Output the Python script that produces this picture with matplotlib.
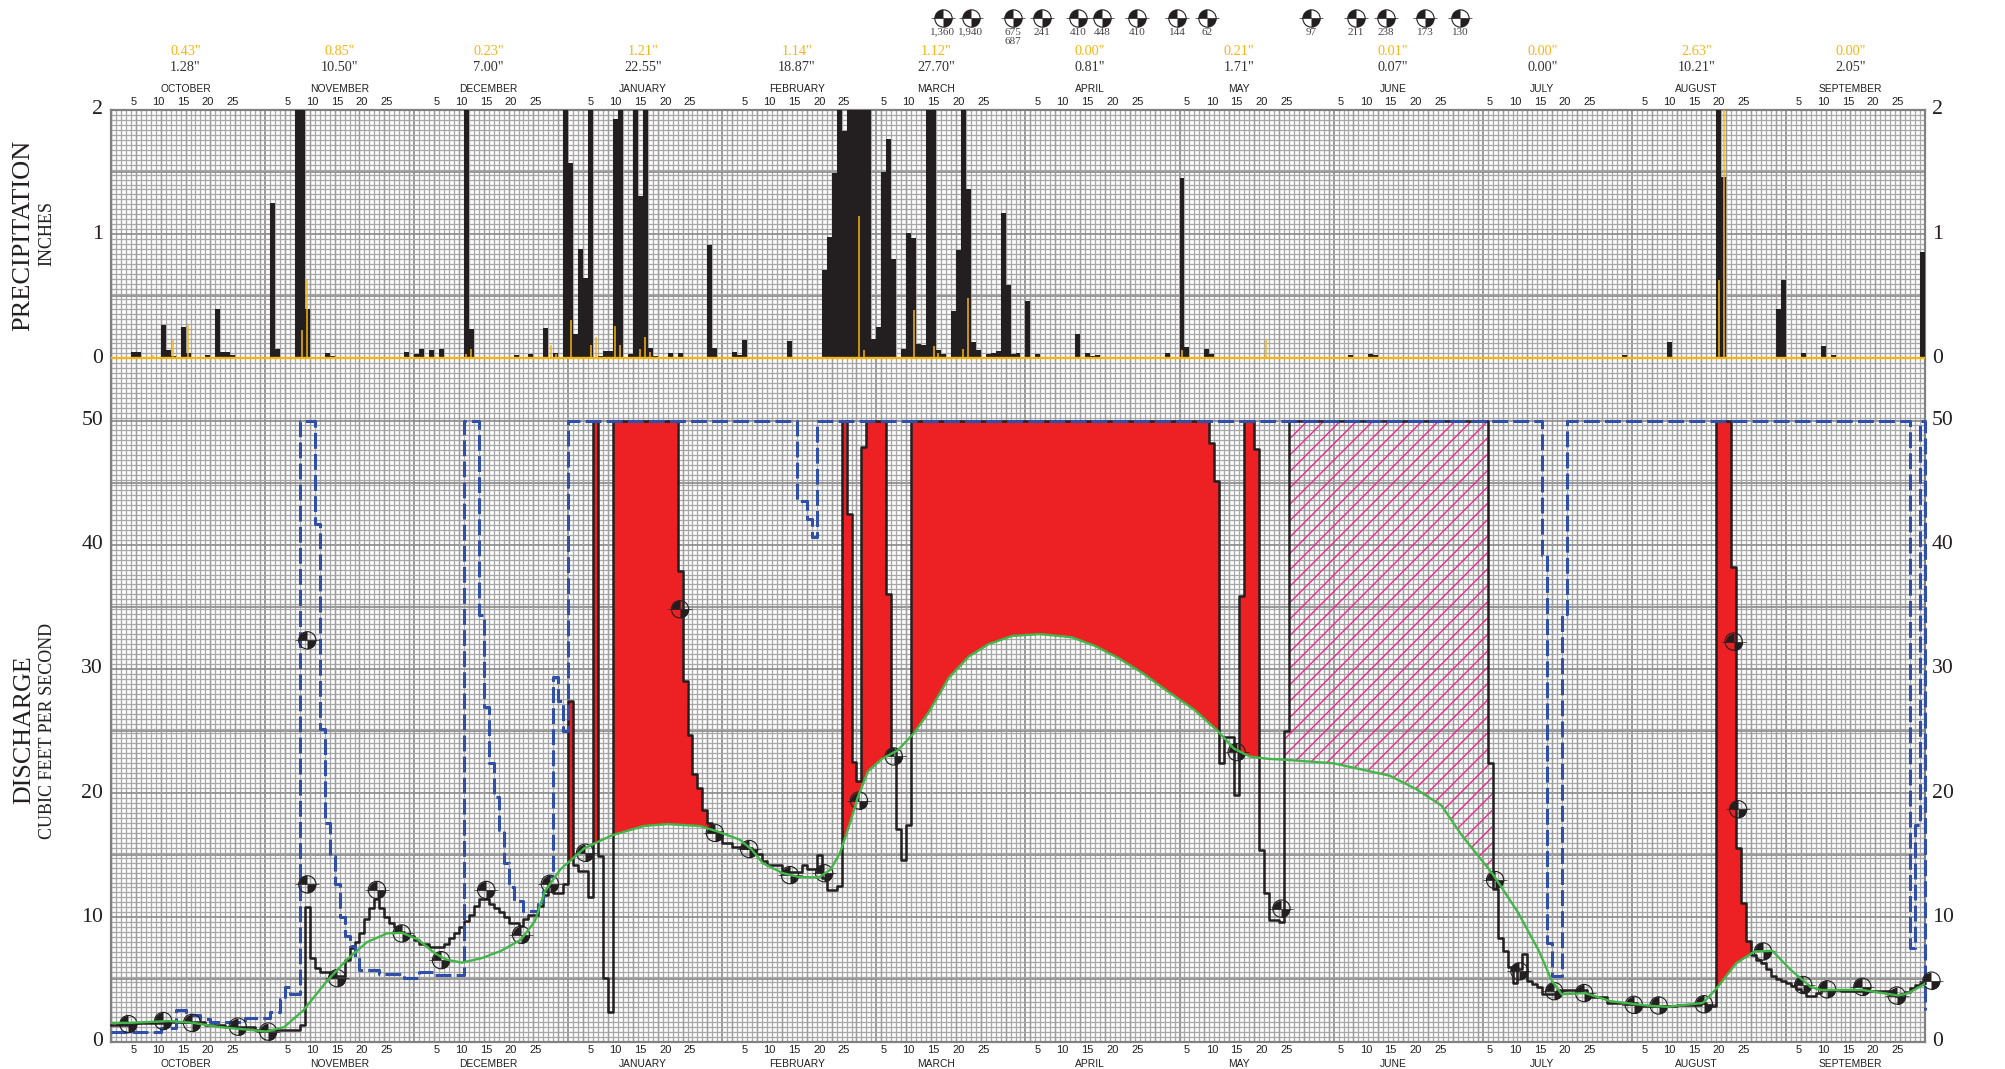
import numpy as np
import matplotlib
matplotlib.use('Agg')
import matplotlib.pyplot as plt
from matplotlib.collections import LineCollection
from matplotlib.path import Path
from matplotlib.ticker import NullFormatter

# values, x is day of the water year (Oct 1 = 0)

months = ['OCTOBER', 'NOVEMBER', 'DECEMBER', 'JANUARY', 'FEBRUARY', 'MARCH',
          'APRIL', 'MAY', 'JUNE', 'JULY', 'AUGUST', 'SEPTEMBER']
month_starts = [0, 31, 61, 92, 123, 151, 182, 212, 243, 273, 304, 335]
heavy_lines = [31, 61, 92, 123, 154, 184, 215, 246, 276, 306, 337]
day_labels = [5, 10, 15, 20, 25]

gold_totals = ['0.43"', '0.85"', '0.23"', '1.21"', '1.14"', '1.12"',
               '0.00"', '0.21"', '0.01"', '0.00"', '2.63"', '0.00"']
black_totals = ['1.28"', '10.50"', '7.00"', '22.55"', '18.87"', '27.70"',
                '0.81"', '1.71"', '0.07"', '0.00"', '10.21"', '2.05"']

# black precipitation bars, 2.5 means cut off by the top of the chart
rain_days = [0, 4, 5, 10, 11, 12, 14, 15, 19, 21, 22, 23, 24, 32, 33, 35, 37, 38, 39,
             42, 43, 44, 47, 50, 54, 59, 61, 62, 64, 66, 68, 71, 72, 73, 74, 79, 81, 82, 84, 87, 89,
             91, 92, 93, 94, 95, 96, 98, 99, 100, 101, 102, 104, 105, 106, 107, 108, 109, 110,
             112, 114, 117, 120, 121, 125, 126, 127, 129, 130, 133, 134, 136, 137, 142,
             143, 144, 145, 146, 147, 148, 149, 150, 151, 152, 153, 154, 155, 156, 157,
             159, 160, 161, 162, 163, 164, 165, 166, 167, 169, 170, 171, 172, 173, 174,
             176, 177, 178, 179, 180, 181, 182, 184, 186, 188, 190, 193, 194, 196, 197, 198,
             212, 213, 215, 216, 220, 221, 224, 225, 226, 249, 253, 254, 304, 312, 313, 318,
             323, 324, 325, 326, 329, 335, 336, 338, 339, 340, 343, 344, 345, 346, 364]
rain_vals = [.01, .05, .055, .27, .07, .02, .255, .045, .025, .40, .055, .055, .025, 1.25, .075, .01, 2.5, 2.5, .40,
             .01, .045, .02, .01, .01, .01, .055, .035, .075, .065, .075, .01, 2.5, .235, .01, .01, .01, .025, .015, .035, .245, .04,
             2.5, 1.57, .2, .88, .65, 2.5, .02, .06, .06, 1.93, 2.5, .035, 2.5, 1.31, 2.5, .08, .02, .015,
             .045, .045, .015, .91, .08, .055, .025, .145, .01, .01, .01, .01, .14, .015, .01,
             .71, .98, 1.49, 2.5, 1.83, 2.5, 2.5, 2.5, 2.5, 2.5, .155, .255, 1.5, 1.77, .8,
             .075, 1.01, .97, .115, .105, 2.5, 2.5, .065, .035, .38, .87, 2.5, 1.36, .135, .065,
             .035, .045, .06, 1.17, .59, .035, .04, .46, .035, .01, .012, .01, .2, .045, .02, .025,
             .045, .01, 1.45, .095, .075, .035, .012, .012, .012, .025, .035, .025, .025, .01, .13, .01,
             2.5, 1.46, .012, .012, .012, .4, .63, .012, .012, .045, .012, .1, .012, .025, .855]

# thin gold precipitation lines
gold_days = [8.5, 12.4, 15.5, 38.5, 39.5, 41.5, 71.5, 72.5, 88.5, 89.5, 92.5, 96.5, 97.5,
             101.5, 102.5, 106.5, 107.5, 108.5, 150.5, 151.5, 161.5, 165.5, 166.5, 171.5,
             172.5, 215.5, 232.5, 323.5, 324.5]
gold_vals = [.025, .15, .27, .23, .63, .015, .035, .075, .105, .035, .31, .105, .175,
             .26, .105, .075, .175, .055, 1.15, .065, .39, .1, .045, .075,
             .49, .065, .155, .63, 2.5]

# black stepped discharge, one value per day
black_flow = ([1.3]*4 + [1.45]*7 + [1.55]*8 + [1.35]*4 + [1.15]*6 + [0.95]*9 + [1.3]
              + [10.8, 6.7, 5.9, 5.6, 5.6, 5.25, 5.25, 5.25, 6.55, 7.5, 8, 8.75, 9.9, 10.75, 11.5,
                 10.75, 10, 9.55, 9.2, 8.85, 8.5, 8.5, 8.2, 7.85, 7.85, 7.6, 7.6, 7.6, 7.85, 8.3,
                 8.7, 9.2, 9.7, 10.2, 10.9, 11.5, 11.5, 11.1, 10.75, 10.4, 10, 9.55, 9.55, 9.3, 9.9,
                 10.2, 10.2, 10.9, 11.8, 12.5, 11.95, 11.95, 12.7, 27.4, 14.2, 13.75, 13.75, 11.6,
                 50, 14.9, 5.1, 2.35]
              + [50]*13
              + [37.9, 29, 24.65, 21.55, 20.4, 18.65, 17.6, 16.9, 16.9, 16, 16, 15.7, 15.7, 15.55,
                 15.55, 15.1, 15.1, 14.5, 14.2, 14.2, 14.2, 13.65, 13.65, 13.65, 13.65, 14.2, 13.85,
                 13.85, 15, 13.15, 12.2, 12.2, 12.55, 50, 42.5, 22.5, 21, 47.9, 50, 50, 50, 50, 36,
                 23.45, 17.1, 14.6, 17.4]
              + [50]*60
              + [48.2, 45.1, 22.4, 24.5, 24.5, 19.85, 35.9, 50, 50, 47.7, 15.45, 11.95, 9.8, 9.8,
                 9.65, 25]
              + [50]*40
              + [22.4, 12.3, 8.35, 7.3, 6, 4.75, 5.8, 7.05, 4.85, 4.65, 4.4, 3.8, 3.8, 3.8]
              + [4.15]*6 + [3.8] + [3.55]*3 + [3.1]*6 + [2.85]*8 + [2.9]*5 + [3.1, 2.85, 2.85]
              + [50, 50, 50, 38.2, 15.55, 11.15, 8.1, 7, 6.6, 6.3, 5.8, 5.25, 5, 4.85, 4.75, 4.5,
                 4.2, 4, 3.7, 3.7, 3.9, 4.15, 4.15, 4.15, 4.15]
              + [4.05]*11 + [3.7, 3.8, 4, 4.3, 4.55, 4.7, 4.7])

# blue dashed stepped line, last value is the drop at the right edge
blue_flow = ([0.8]*10 + [1.1]*3 + [2.5]*2 + [2.15]*3 + [1.8]*2 + [1.55]*7 + [1.9]*5 + [2.35]*2
             + [3.4, 4.4, 3.8, 3.8, 50, 50, 50, 41.65, 25.2, 17.6, 14.9, 12.65, 10, 8.5, 7.65, 6.8]
             + [5.75]*4 + [5.4]*5 + [5.1]*3 + [5.6]*3 + [5.35]*6 + [50]*3
             + [34.3, 26.9, 22.4, 19.7, 17, 14.35, 12.45, 11.35, 11.35, 10.5, 10.5, 10.5, 11.1,
                12.1, 13.3, 29.35, 27.4, 25]
             + [50]*46 + [43.5, 43.5, 42.1, 40.6] + [50]*146
             + [39.15, 7.95, 5.3, 5.3, 34.45] + [50]*69 + [7.55, 17.45, 50, 2.5])

# green curve
green_days = [0, 3.7, 11.7, 16.5, 22, 27.6, 31.2, 34.8, 38.7, 43.5, 47.5, 51.5, 55.5, 58.6, 61.8,
              65, 67.4, 70.6, 74.5, 78.5, 82.5, 85.3, 87.3, 90.4, 95.2, 100.8, 107.2, 111.9, 118.5,
              122.5, 126.5, 128.8, 131.2, 135.2, 138.4, 142.4, 144.8, 146.7, 148.7, 150.3, 152.3,
              155.1, 158.3, 161.5, 164.6, 168.6, 172.6, 176.6, 181.3, 186.9, 193.3, 198, 202.8,
              207.6, 212.4, 218, 222.7, 225.9, 229.1, 233, 235.6, 246, 257.3, 262.5, 267.7, 271.8,
              278, 283.1, 287.3, 289.9, 291.9, 296.6, 301.7, 308.9, 313.1, 320.3, 322.9, 327,
              330.7, 334.3, 337.9, 342, 344.1, 352.4, 359.6, 361.7, 365]
green_vals = [1.5, 1.5, 1.65, 1.5, 1.15, .95, .8, 1.15, 2.5, 4.9, 6.6, 8, 8.7, 8.75, 8.2,
              7.15, 6.6, 6.35, 6.7, 7.3, 8.2, 9.7, 12.1, 13.85, 15.55, 16.6, 17.35, 17.5, 17.35,
              16.85, 16.25, 15.5, 14.35, 13.55, 13.25, 13.2, 13.85, 15.2, 17.6, 19.7, 21.75,
              22.75, 23.45, 24.8, 26.55, 29.3, 31, 32, 32.65, 32.8, 32.55, 31.85, 30.85,
              29.65, 28.25, 26.7, 25, 23.6, 22.95, 22.75, 22.7, 22.4, 21.4, 20.35, 19, 16.6,
              13.5, 10.4, 7.3, 4.9, 3.8, 3.9, 3.25, 2.9, 2.8, 3.1, 4.2, 6.3,
              7.25, 7.3, 5.8, 4.4, 4.15, 4.15, 3.7, 3.9, 4.65]

# day ranges that get the red fill and the hatch
red_ranges = [(92, 93), (97, 98), (101, 121), (147, 151), (151, 157), (161, 223), (227, 232), (323, 331)]
hatch_range = (236, 279)

# sample points on the discharge chart
sample_days = [3.5, 10.5, 16.3, 25.5, 31.6, 39.5, 39.5, 45.5, 53.5, 58.5, 66.4, 75.5, 82.5, 88.3,
               95.4, 114.5, 121.5, 128.4, 136.6, 143.5, 150.5, 157.5, 226.5, 235.5, 278.5, 283.4,
               290.4, 296.4, 306.4, 311.4, 320.5, 326.5, 327.4, 332.4, 340.5, 345.3, 352.4, 359.3,
               366.3]
sample_vals = [1.4, 1.65, 1.5, 1.2, .8, 32.3, 12.65, 5.1, 12.2, 8.7, 6.55, 12.2, 8.6, 12.7,
               15.2, 34.8, 16.8, 15.5, 13.4, 13.55, 19.4, 22.95, 23.3, 10.7, 13, 5.65,
               4.05, 3.9, 2.95, 2.9, 3, 32.2, 18.7, 7.25, 4.55, 4.2, 4.4, 3.7,
               4.9]

# symbols above the chart
top_days = [167.4, 173, 181.5, 187.3, 194.6, 199.4, 206.4, 214.5, 220.5, 241.4, 250.5, 256.5, 264.4, 271.4]
top_labels = ['1,360', '1,940', '675', '241', '410', '448', '410', '144', '62', '97', '211', '238', '173', '130']

BLACK = '#231f20'
GOLD = '#f7b512'
SERIF = 'Liberation Serif'
SANS = 'Liberation Sans'

W, H = 2005, 1069
LEFT, RIGHT = 111, 1925
fig = plt.figure(figsize=(W / 100, H / 100), dpi=100)
ax_p = fig.add_axes([LEFT / W, 1 - 420.5 / H, (RIGHT - LEFT) / W, 310.5 / H])
ax_q = fig.add_axes([LEFT / W, 1 - 1041.5 / H, (RIGHT - LEFT) / W, 621 / H])
ax_p.set_xlim(0, 365)
ax_q.set_xlim(0, 365)
ax_p.set_ylim(-0.5, 2)
ax_q.set_ylim(0, 50)


def graph_paper(ax, fine, major, top):
    low = ax.get_ylim()[0]
    ax.set_axisbelow(True)
    ax.set_xticks(heavy_lines)
    ax.set_xticks(np.arange(0, 366), minor=True)
    ax.set_yticks(np.arange(top, low - 1e-9, -major))
    ax.set_yticks(np.arange(top, low - 1e-9, -fine), minor=True)
    ax.tick_params(which='both', length=0, labelleft=False, labelbottom=False)
    ax.xaxis.set_major_formatter(NullFormatter())
    ax.grid(which='minor', color='#a8a8a8', lw=0.95)
    ax.grid(which='major', color='#8c8c8c', lw=1.25)
    ax.vlines(np.arange(0, 366, 5), low, top, color='#9c9c9c', lw=0.95, zorder=0.6)
    for s in ax.spines.values():
        s.set_color('#808080')
        s.set_linewidth(1.6)


graph_paper(ax_p, 0.04, 0.5, 2)
graph_paper(ax_q, 0.4, 5, 50)
ax_p.spines['bottom'].set_visible(False)
ax_q.spines['top'].set_visible(False)
ax_q.set_zorder(2)
ax_q.patch.set_alpha(0)

# precipitation
ax_p.bar(np.array(rain_days) + 0.5, rain_vals, width=1.0, color=BLACK, zorder=3)
ax_p.vlines(gold_days, 0, gold_vals, color=GOLD, lw=1.1, zorder=4)
ax_p.plot([0, 365], [0, 0], color=GOLD, lw=1.7, zorder=5)

# discharge fills
black_arr = np.array(black_flow)
xs = np.arange(0, 365, 0.1)
top_line = black_arr[xs.astype(int)]
green_line = np.interp(xs, green_days, green_vals)
for a, b in red_ranges:
    m = (xs >= a) & (xs <= b)
    ax_q.fill_between(xs[m], green_line[m], top_line[m], where=top_line[m] > green_line[m],
                      color='#ed2024', lw=0, zorder=2)

# hatch as diagonal lines clipped to the area between the two curves
a, b = hatch_range
m = (xs >= a) & (xs <= b)
area = ax_q.fill_between(xs[m], green_line[m], top_line[m], where=top_line[m] > green_line[m],
                         facecolor='none', lw=0, zorder=2)
rise = 4.97 / 12.42  # cfs per day for a 45 degree line on screen
starts = np.arange(a - 130, b + 1, 3.3)
segs = [[(s, 0), (s + 50 / rise, 50)] for s in starts]
hatch = LineCollection(segs, colors='#ec2a8c', linewidths=1.0, zorder=2.1)
ax_q.add_collection(hatch)
hatch.set_clip_path(area.get_paths()[0], ax_q.transData)

days = np.arange(366)
ax_q.plot(days, black_flow[:366], drawstyle='steps-post', color=BLACK, lw=1.8, zorder=3, clip_on=False)
ax_q.plot(days, blue_flow, drawstyle='steps-post', color='#2f4fa8', lw=2.2, zorder=4,
          dashes=(5.2, 1.7), clip_on=False)
ax_q.plot(green_days, green_vals, color='#43b649', lw=1.7, zorder=6)


def symbols(ax, x, y, face, size=155):
    # open disc with two black quarters and a small tail
    ax.scatter(x, y, s=size, facecolor=face, edgecolor=BLACK, lw=0.8, zorder=5, clip_on=False)
    ax.scatter(x, y, s=size, marker=Path.wedge(90, 180), color=BLACK, lw=0, zorder=5.1, clip_on=False)
    ax.scatter(x, y, s=size, marker=Path.wedge(270, 360), color=BLACK, lw=0, zorder=5.1, clip_on=False)
    ax.scatter(x, y, s=size * 1.8, marker='_', color=BLACK, lw=0.5, zorder=5.1, clip_on=False)


symbols(ax_q, sample_days, sample_vals, 'none')
symbols(ax_p, top_days, [2.74] * len(top_days), 'white')
for d, t in zip(top_days, top_labels):
    ax_p.text(d, 2.628, t, family=SERIF, fontsize=8, color='#444444', ha='center', va='center')
ax_p.text(top_days[2], 2.555, '687', family=SERIF, fontsize=8, color='#444444', ha='center', va='center')

# month and day labels, top and bottom
for i, start in enumerate(month_starts):
    ax_p.text(start + 15, 2.475, gold_totals[i], family=SERIF, fontsize=10.3, color=GOLD, ha='center', va='center')
    ax_p.text(start + 15, 2.34, black_totals[i], family=SERIF, fontsize=10.3, color='#333333', ha='center', va='center')
    ax_p.text(start + 15, 2.17, months[i], family=SANS, fontsize=7.4, color=BLACK, ha='center', va='center')
    ax_q.text(start + 15, -1.78, months[i], family=SANS, fontsize=7.4, color=BLACK, ha='center', va='center')
    for d in day_labels:
        ax_p.text(start + d - 0.5, 2.064, str(d), family=SANS, fontsize=8, color=BLACK, ha='center', va='center')
        ax_q.text(start + d - 0.5, -0.65, str(d), family=SANS, fontsize=8, color=BLACK, ha='center', va='center')

# y labels on both sides
for v in [0, 1, 2]:
    ax_p.text(-1.6, v, str(v), family=SERIF, fontsize=15.7, color=BLACK, ha='right', va='center')
    ax_p.text(366.4, v, str(v), family=SERIF, fontsize=15.7, color=BLACK, ha='left', va='center')
for v in [0, 10, 20, 30, 40, 50]:
    ax_q.text(-1.6, v, str(v), family=SERIF, fontsize=15.7, color=BLACK, ha='right', va='center')
    ax_q.text(366.4, v, str(v), family=SERIF, fontsize=15.7, color=BLACK, ha='left', va='center')

fig.text(23.5 / W, 1 - 235 / H, 'PRECIPITATION', family=SERIF, fontsize=19, color=BLACK, rotation=90, ha='center', va='center')
fig.text(47 / W, 1 - 234 / H, 'INCHES', family=SERIF, fontsize=13, color=BLACK, rotation=90, ha='center', va='center')
fig.text(24 / W, 1 - 730 / H, 'DISCHARGE', family=SERIF, fontsize=18.7, color=BLACK, rotation=90, ha='center', va='center')
fig.text(47.5 / W, 1 - 731 / H, 'CUBIC FEET PER SECOND', family=SERIF, fontsize=13, color=BLACK, rotation=90, ha='center', va='center')

fig.savefig('out.png', dpi=100)
